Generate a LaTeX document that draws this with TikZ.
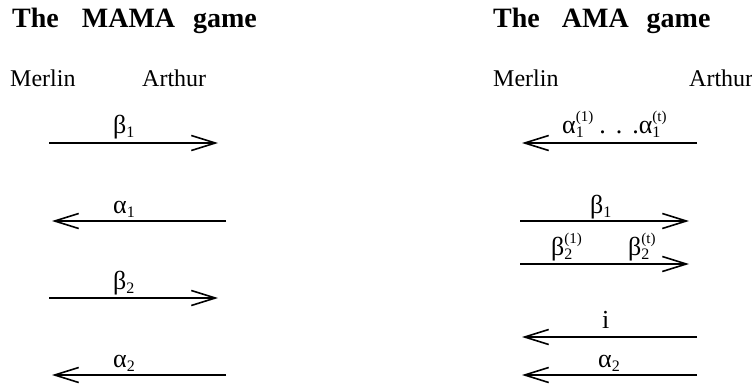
\documentclass[tikz,border=0pt]{standalone}
\usepackage{fontspec}
\setmainfont{Liberation Serif}
\usetikzlibrary{arrows.meta}
\newcommand\gsub[2]{#1\raisebox{-4pt}{\fontsize{16}{16}\selectfont #2}}
\newcommand\gsubsup[3]{#1\makebox[0pt][l]{\raisebox{-4pt}{\fontsize{16}{16}\selectfont #2}}\raisebox{12pt}{\fontsize{15}{15}\selectfont #3}}
\begin{document}
\begin{tikzpicture}[x=1pt,y=1pt,
  title/.style={anchor=base west,inner sep=0pt,font=\fontsize{28}{32}\selectfont\bfseries},
  party/.style={anchor=base west,inner sep=0pt,font=\fontsize{24}{28}\selectfont},
  lab/.style={anchor=base west,inner sep=0pt,font=\fontsize{26}{30}\selectfont},
  msg/.style={line width=1.6pt,-{Straight Barb[length=24pt,width=15pt,line width=1.6pt]}}]
\useasboundingbox (0,0) rectangle (752,-386);
% left
\node[title] (t1) at (12,-27) {The\hspace{23pt}MAMA\hspace{18pt}game};
\node[party] (m1) at (10,-86) {Merlin};
\node[party] (a1) at (142,-86) {Arthur};
\coordinate (l1a) at (49,-143); \coordinate (l1b) at (218,-143);
\coordinate (l2a) at (226,-221); \coordinate (l2b) at (52,-221);
\coordinate (l3a) at (49,-298); \coordinate (l3b) at (218,-298);
\coordinate (l4a) at (226,-375); \coordinate (l4b) at (52,-375);
\draw[msg] (l1a) -- (l1b);
\draw[msg] (l2a) -- (l2b);
\draw[msg] (l3a) -- (l3b);
\draw[msg] (l4a) -- (l4b);
\node[lab] (lb1) at (113,-133) {\gsub{β}{1}};
\node[lab] (lb2) at (113,-213) {\gsub{α}{1}};
\node[lab] (lb3) at (113,-289) {\gsub{β}{2}};
\node[lab] (lb4) at (113,-367) {\gsub{α}{2}};
% right
\node[title] (t2) at (493,-27) {The\hspace{22pt}AMA\hspace{18pt}game};
\node[party] (m2) at (493,-86) {Merlin};
\node[party] (a2) at (689,-86) {Arthur};
\coordinate (r1a) at (697,-143); \coordinate (r1b) at (522,-143);
\coordinate (r2a) at (520,-221); \coordinate (r2b) at (689,-221);
\coordinate (r3a) at (520,-264); \coordinate (r3b) at (689,-264);
\coordinate (r4a) at (697,-337); \coordinate (r4b) at (522,-337);
\coordinate (r5a) at (697,-375); \coordinate (r5b) at (522,-375);
\draw[msg] (r1a) -- (r1b);
\draw[msg] (r2a) -- (r2b);
\draw[msg] (r3a) -- (r3b);
\draw[msg] (r4a) -- (r4b);
\draw[msg] (r5a) -- (r5b);
\node[lab] (rb1) at (562,-133) {\gsubsup{α}{1}{(1)}\hspace{6pt}.\hspace{10pt}.\hspace{10pt}.\gsubsup{α}{1}{(t)}};
\node[lab] (rb2) at (590,-213) {\gsub{β}{1}};
\node[lab] (rb3) at (551,-255) {\gsubsup{β}{2}{(1)}};
\node[lab] (rb4) at (628,-255) {\gsubsup{β}{2}{(t)}};
\node[lab] (rb5) at (602,-328) {i};
\node[lab] (rb6) at (598,-367) {\gsub{α}{2}};
\end{tikzpicture}
\end{document}
